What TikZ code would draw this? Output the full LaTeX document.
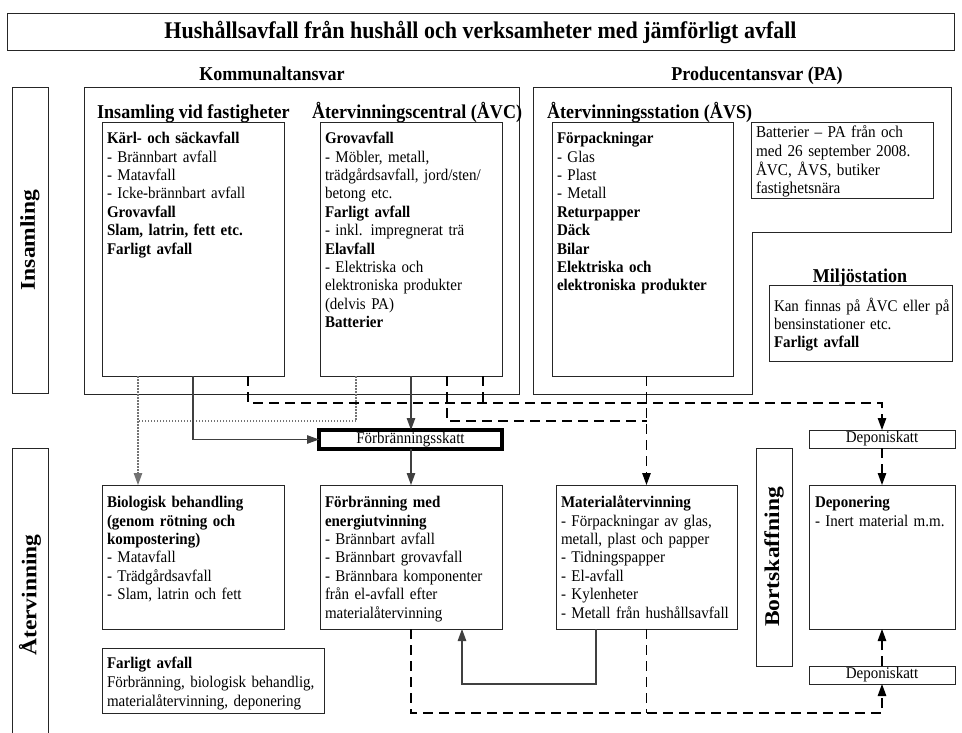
\documentclass[tikz,border=0pt]{standalone}
\usepackage{fontspec}
\setmainfont{Liberation Serif}[FakeStretch=0.92]
\newfontfamily\sidefont{Liberation Serif}[FakeStretch=1.12]
\usetikzlibrary{arrows.meta}
\begin{document}
\begin{tikzpicture}[x=1pt,y=-1pt,
  frame/.style={draw=black!85, line width=0.9pt},
  boxn/.style={frame, anchor=north west, inner sep=0pt, outer sep=0pt},
  body/.style={anchor=north west, inner sep=0pt, outer sep=0pt, align=left, text width=230pt, font=\fontsize{16.3}{18.4}\selectfont},
  head/.style={inner sep=0pt, font=\fontsize{19.6}{22}\selectfont\bfseries},
  side/.style={rotate=90, inner sep=0pt, font=\sidefont\fontsize{21}{25}\selectfont\bfseries},
  tip/.style={-{Triangle[length=12pt,width=8.5pt]}},
  solidc/.style={draw=black!75, line width=1.1pt},
  dashc/.style={draw=black, line width=1.2pt, dash pattern=on 10pt off 6pt},
  dotc/.style={draw=black!55, line width=1.1pt, dash pattern=on 1.5pt off 1.5pt},
]
\useasboundingbox (0,0) rectangle (962,733);

% title
\node[boxn, minimum width=947pt, minimum height=37pt] (title) at (7,13) {};
\node[anchor=base, inner sep=0pt, font=\fontsize{23.9}{28}\selectfont\bfseries] (titletxt) at (480.5,38.5) {Hushållsavfall från hushåll och verksamheter med jämförligt avfall};

% responsibility headings
\node[head, anchor=base] (komh) at (272,80.5) {Kommunaltansvar};
\node[head, anchor=base] (pah) at (757,80.5) {Producentansvar (PA)};

% side labels
\node[boxn, minimum width=36pt, minimum height=306pt] (insam) at (12,87) {};
\node[side] (insaml) at (insam.center) {Insamling};
\draw[frame] (12,733) -- (12,448) -- (48,448) -- (48,733);
\node[side] (atvl) at (30,595) {Återvinning};
\node[boxn, minimum width=36pt, minimum height=218pt] (bort) at (756,448) {};
\node[side] (bortl) at (bort.center) {Bortskaffning};

% outer groups
\node[boxn, minimum width=435pt, minimum height=307pt] (kom) at (84,87) {};
\draw[frame] (533,394) -- (533,87) -- (951,87) -- (951,232) -- (752,232) -- (752,394) -- cycle;

% sub headings
\node[head, anchor=base west] (kboxh) at (97,118.5) {Insamling vid fastigheter};
\node[head, anchor=base west] (avch) at (312,118.5) {Återvinningscentral (ÅVC)};
\node[head, anchor=base west] (avsh) at (547,118.5) {Återvinningsstation (ÅVS)};
\node[head, anchor=base] (miljh) at (860,282.5) {Miljöstation};

% collection boxes
\node[boxn, minimum width=182pt, minimum height=254pt] (kbox) at (102,122) {};
\node[body] (kboxt) at (107,130.8) {\strut\textbf{Kärl- och säckavfall}\\- Brännbart avfall\\- Matavfall\\- Icke-brännbart avfall\\\textbf{Grovavfall}\\\textbf{Slam, latrin, fett etc.}\\\textbf{Farligt avfall}};

\node[boxn, minimum width=182pt, minimum height=254pt] (avc) at (320,122) {};
\node[body] (avct) at (325,130.8) {\strut\textbf{Grovavfall}\\- Möbler, metall,\\trädgårdsavfall, jord/sten/\\betong etc.\\\textbf{Farligt avfall}\\- inkl. impregnerat trä\\\textbf{Elavfall}\\- Elektriska och\\elektroniska produkter\\(delvis PA)\\\textbf{Batterier}};

\node[boxn, minimum width=181pt, minimum height=254pt] (avs) at (552,122) {};
\node[body] (avst) at (557,130.8) {\strut\textbf{Förpackningar}\\- Glas\\- Plast\\- Metall\\\textbf{Returpapper}\\\textbf{Däck}\\\textbf{Bilar}\\\textbf{Elektriska och}\\\textbf{elektroniska produkter}};

\node[boxn, minimum width=182pt, minimum height=76pt] (batt) at (751,122) {};
\node[body, font=\fontsize{16.5}{18.6}\selectfont] (battt) at (756,124.8) {\strut Batterier -- PA från och\\med 26 september 2008.\\ÅVC, ÅVS, butiker\\fastighetsnära};

\node[boxn, minimum width=183pt, minimum height=76pt] (milj) at (769,285) {};
\node[body] (miljt) at (774,297.8) {\strut Kan finnas på ÅVC eller på\\bensinstationer etc.\\\textbf{Farligt avfall}};

% taxes
\node[boxn, line width=3.2pt, draw=black, minimum width=183pt, minimum height=19pt, font=\fontsize{16.3}{18}\selectfont] (fskatt) at (319,430) {Förbränningsskatt};
\node[boxn, minimum width=146pt, minimum height=18pt, font=\fontsize{16.3}{18}\selectfont] (dsk1) at (809,430) {Deponiskatt};
\node[boxn, minimum width=146pt, minimum height=18pt, font=\fontsize{16.3}{18}\selectfont] (dsk2) at (809,666) {Deponiskatt};

% treatment boxes
\node[boxn, minimum width=182pt, minimum height=144pt] (bio) at (102,485) {};
\node[body] (biot) at (107,494.8) {\strut\textbf{Biologisk behandling}\\\textbf{(genom rötning och}\\\textbf{kompostering)}\\- Matavfall\\- Trädgårdsavfall\\- Slam, latrin och fett};

\node[boxn, minimum width=182pt, minimum height=144pt] (forb) at (320,485) {};
\node[body] (forbt) at (325,494.8) {\strut\textbf{Förbränning med}\\\textbf{energiutvinning}\\- Brännbart avfall\\- Brännbart grovavfall\\- Brännbara komponenter\\från el-avfall efter\\materialåtervinning};

\node[boxn, minimum width=181pt, minimum height=144pt] (mat) at (556,485) {};
\node[body] (matt) at (561,494.8) {\strut\textbf{Materialåtervinning}\\- Förpackningar av glas,\\metall, plast och papper\\- Tidningspapper\\- El-avfall\\- Kylenheter\\- Metall från hushållsavfall};

\node[boxn, minimum width=146pt, minimum height=144pt] (dep) at (809,485) {};
\node[body] (dept) at (815,494.8) {\strut\textbf{Deponering}\\- Inert material m.m.};

\node[boxn, minimum width=222pt, minimum height=65pt] (farl) at (102,648) {};
\node[body, font=\fontsize{16.3}{19}\selectfont] (farlt) at (107,654.8) {\strut\textbf{Farligt avfall}\\Förbränning, biologisk behandlig,\\materialåtervinning, deponering};

% junction coordinates
\coordinate (dotj) at (138,421);
\coordinate (dashj) at (647,421);

% dotted (biological)
\draw[dotc, tip] ([xshift=36pt]kbox.south west) -- ([xshift=36pt]bio.north west);
\draw[dotc] ([xshift=36pt]avc.south west) |- (dotj);

% solid (incineration)
\draw[solidc, tip] ([xshift=91pt]kbox.south west) |- (fskatt.west);
\draw[solidc, tip] (avc.south) -- (avc.south |- fskatt.north);
\draw[solidc, tip] (forb.north |- fskatt.south) -- (forb.north);
\draw[solidc, tip] ([xshift=40pt]mat.south west) -- ++(0,55) -| ([xshift=142pt]forb.south west);

% dashed (landfill / material)
\draw[dashc, tip] ([xshift=146pt]kbox.south west) -- ++(0,27) -| (dsk1.north);
\draw[dashc] ([xshift=163pt]avc.south west) -- ++(0,27);
\draw[dashc] ([xshift=127pt]avc.south west) |- (dashj);
\draw[dashc, tip] (mat.north |- avs.south) -- (mat.north);
\draw[dashc, tip] (dsk1.south) -- (dep.north);
\draw[dashc, tip] (forb.south) -- ++(0,84) -| (dsk2.south);
\draw[dashc] (mat.south) -- ++(0,84);
\draw[dashc, tip] (dsk2.north) -- (dep.south);
\end{tikzpicture}
\end{document}
